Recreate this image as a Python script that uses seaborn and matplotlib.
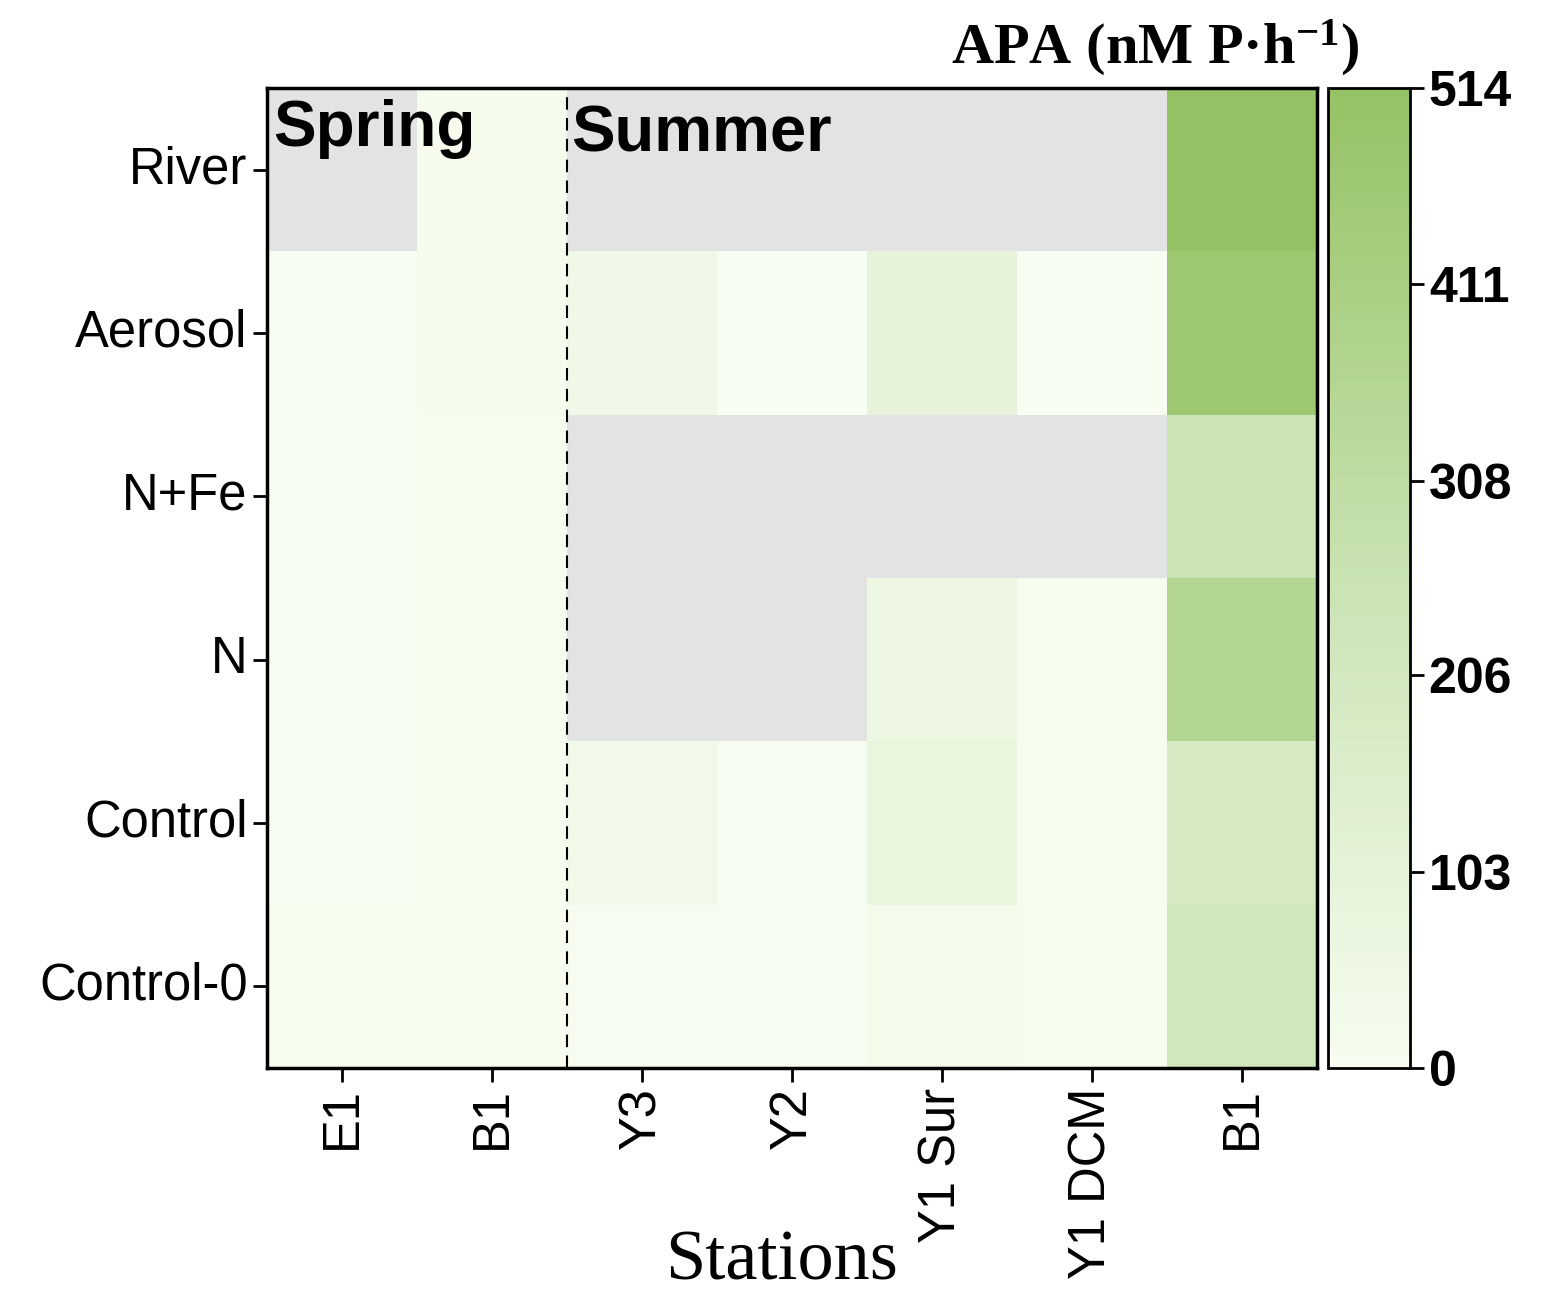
import numpy as np
import pandas as pd
import matplotlib
matplotlib.use("Agg")
import matplotlib.pyplot as plt
import seaborn as sns
from matplotlib.colors import LinearSegmentedColormap

stations = ["E1", "B1", "Y3", "Y2", "Y1 Sur", "Y1 DCM", "B1"]
treatments = ["River", "Aerosol", "N+Fe", "N", "Control", "Control-0"]
nan = np.nan
river = [nan, 12, nan, nan, nan, nan, 514]
aerosol = [3, 12, 40, 3, 95, 3, 470]
nfe = [3, 5, nan, nan, nan, nan, 250]
n_add = [3, 5, nan, nan, 60, 5, 360]
control = [3, 5, 35, 8, 75, 5, 185]
control0 = [5, 5, 8, 8, 25, 5, 215]
cbar_ticks = [0, 103, 206, 308, 411, 514]

data = np.array([river, aerosol, nfe, n_add, control, control0], dtype=float)

sns.set_theme(style="white")
plt.rcParams["font.family"] = ["Liberation Sans", "DejaVu Sans"]
plt.rcParams["text.color"] = "black"
plt.rcParams["xtick.color"] = "black"
plt.rcParams["ytick.color"] = "black"
plt.rcParams["axes.labelcolor"] = "black"
plt.rcParams["mathtext.fontset"] = "custom"
plt.rcParams["mathtext.rm"] = "Liberation Serif:bold"
plt.rcParams["mathtext.bf"] = "Liberation Serif:bold"
plt.rcParams["mathtext.default"] = "bf"

fig = plt.figure(figsize=(15.59, 13.01), dpi=100)
ax = fig.add_axes([267/1559, 1-1068/1301, (1317-267)/1559, (1068-88)/1301])
cax = fig.add_axes([1328/1559, 1-1068/1301, (1410-1328)/1559, (1068-88)/1301])

cmap = LinearSegmentedColormap.from_list("g", ["#F7FDF0", "#C9E3B3", "#95C264"])
ax.set_facecolor("#E3E3E3")
sns.heatmap(data, ax=ax, cbar_ax=cax, cmap=cmap, vmin=0, vmax=514,
            xticklabels=stations, yticklabels=treatments, linewidths=0)

for s in ax.spines.values():
    s.set_visible(True)
    s.set_color("black")
    s.set_linewidth(2.5)
ax.tick_params(axis="both", which="both", length=10, width=2, color="black",
               left=True, bottom=True, labelsize=36.5, pad=4, labelcolor="black")
plt.setp(ax.get_yticklabels(), rotation=0)
plt.setp(ax.get_xticklabels(), rotation=90)
ax.axvline(2, color="black", linestyle=(0, (6, 4)), linewidth=1.5)
ax.text(0.04, 0.07, "Spring", fontsize=46, fontweight="bold", ha="left", va="top")
ax.text(2.03, 0.1, "Summer", fontsize=47, fontweight="bold", ha="left", va="top")
ax.set_xlabel("Stations", fontsize=52, family="Liberation Serif")
ax.xaxis.set_label_coords(0.49, -0.165)
ax.set_ylabel("")

cb = ax.collections[0].colorbar
cb.set_ticks(cbar_ticks)
cb.set_ticklabels([str(t) for t in cbar_ticks])
cb.outline.set_visible(True)
cb.outline.set_edgecolor("black")
cb.outline.set_linewidth(2)
cax.tick_params(length=10, width=2, color="black", labelsize=36, right=True,
                labelcolor="black")
for lab in cax.get_yticklabels():
    lab.set_fontweight("bold")
fig.text(1155/1559, 1-48/1301, "APA (nM P·h$^{-1}$)", fontsize=42,
         fontweight="bold", family="Liberation Serif", ha="center", va="center")

fig.savefig("out.png", dpi=100, facecolor="white")
